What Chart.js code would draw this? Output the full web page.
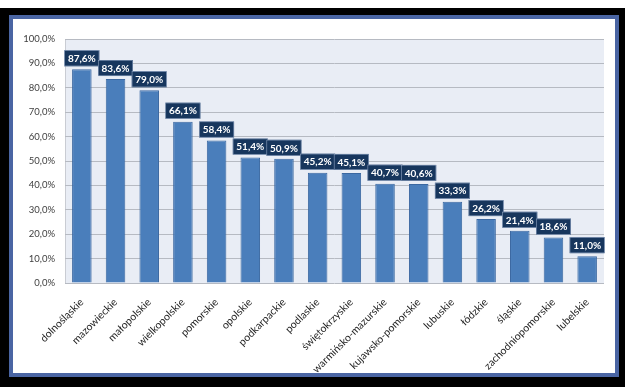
<!DOCTYPE html>
<html>
<head>
<meta charset="utf-8">
<script src="https://cdn.jsdelivr.net/npm/chart.js@4"></script>
<style>
  html, body { margin: 0; padding: 0; }
  body { width: 625px; height: 387px; background: #000; position: relative; overflow: hidden; }
  .strip { position: absolute; left: 0; top: 0; width: 625px; height: 8px; background: #fff; }
  .panel { position: absolute; left: 9px; top: 15px; width: 602px; height: 354px;
           border: 4px solid #4a65a3; background: #fff; }
  canvas { display: block; }
</style>
</head>
<body>
<div class="strip"></div>
<div class="panel"><canvas id="regionChart" width="602" height="354"></canvas></div>
<script>
const regions = ['dolnośląskie', 'mazowieckie', 'małopolskie', 'wielkopolskie', 'pomorskie', 'opolskie',
  'podkarpackie', 'podlaskie', 'świętokrzyskie', 'warmińsko-mazurskie', 'kujawsko-pomorskie',
  'lubuskie', 'łódzkie', 'śląskie', 'zachodniopomorskie', 'lubelskie'];
const shares = [87.6, 83.6, 79.0, 66.1, 58.4, 51.4, 50.9, 45.2, 45.1, 40.7, 40.6, 33.3, 26.2, 21.4, 18.6, 11.0];
const yTicks = ['0,0%', '10,0%', '20,0%', '30,0%', '40,0%', '50,0%', '60,0%', '70,0%', '80,0%', '90,0%', '100,0%'];

const fmt = v => v.toFixed(1).replace('.', ',') + '%';
const FONT = 'Lato, "Liberation Sans", sans-serif';

// light panel behind the bars
const plotBg = {
  id: 'plotBg',
  beforeDraw(chart) {
    const { ctx, chartArea: a } = chart;
    ctx.save();
    ctx.fillStyle = '#e9edf5';
    ctx.fillRect(a.left, a.top, a.right - a.left, a.bottom - a.top);
    ctx.strokeStyle = '#c9ccd3';
    ctx.lineWidth = 1;
    ctx.beginPath();
    ctx.moveTo(a.left + 0.5, a.top);
    ctx.lineTo(a.left + 0.5, a.bottom);
    ctx.stroke();
    ctx.restore();
  }
};

// dark boxed value labels above each bar
const valueBoxes = {
  id: 'valueBoxes',
  afterDatasetsDraw(chart) {
    const { ctx } = chart;
    const meta = chart.getDatasetMeta(0);
    ctx.save();
    ctx.font = 'bold 10px ' + FONT;
    ctx.textAlign = 'center';
    ctx.textBaseline = 'middle';
    meta.data.forEach((bar, i) => {
      const txt = fmt(shares[i]);
      const w = ctx.measureText(txt).width + 7;
      const h = 16;
      const x = bar.x - w / 2;
      const y = bar.y - 3 - h;
      ctx.fillStyle = '#17365d';
      ctx.fillRect(x, y, w, h);
      ctx.strokeStyle = '#8fa3c2';
      ctx.lineWidth = 0.6;
      ctx.strokeRect(x + 0.3, y + 0.3, w - 0.6, h - 0.6);
      ctx.fillStyle = '#ffffff';
      ctx.fillText(txt, bar.x, y + h / 2 + 0.5);
    });
    ctx.restore();
  }
};

new Chart(document.getElementById('regionChart'), {
  type: 'bar',
  data: {
    labels: regions,
    datasets: [{
      data: shares,
      backgroundColor: '#4a7ebb',
      borderColor: '#3b68a1',
      borderWidth: 1,
      barPercentage: 0.58,
      categoryPercentage: 1
    }]
  },
  options: {
    responsive: false,
    animation: false,
    layout: { padding: { top: 20, right: 11, left: 0, bottom: 0 } },
    plugins: { legend: { display: false }, tooltip: { enabled: false } },
    scales: {
      x: {
        afterFit(s) { s.height = 90; },
        grid: { display: false },
        border: { display: false },
        ticks: {
          minRotation: 45, maxRotation: 45, autoSkip: false, padding: 5,
          color: '#1f1f1f', font: { family: FONT, size: 10.5 }
        }
      },
      y: {
        min: 0, max: 100,
        afterFit(s) { s.width = 52; },
        grid: { color: '#b6bac2', drawTicks: false },
        border: { display: false },
        ticks: {
          stepSize: 10, padding: 10, color: '#404040',
          font: { family: FONT, size: 9.5 },
          callback: (v, i) => yTicks[i]
        }
      }
    }
  },
  plugins: [plotBg, valueBoxes]
});
</script>
</body>
</html>
